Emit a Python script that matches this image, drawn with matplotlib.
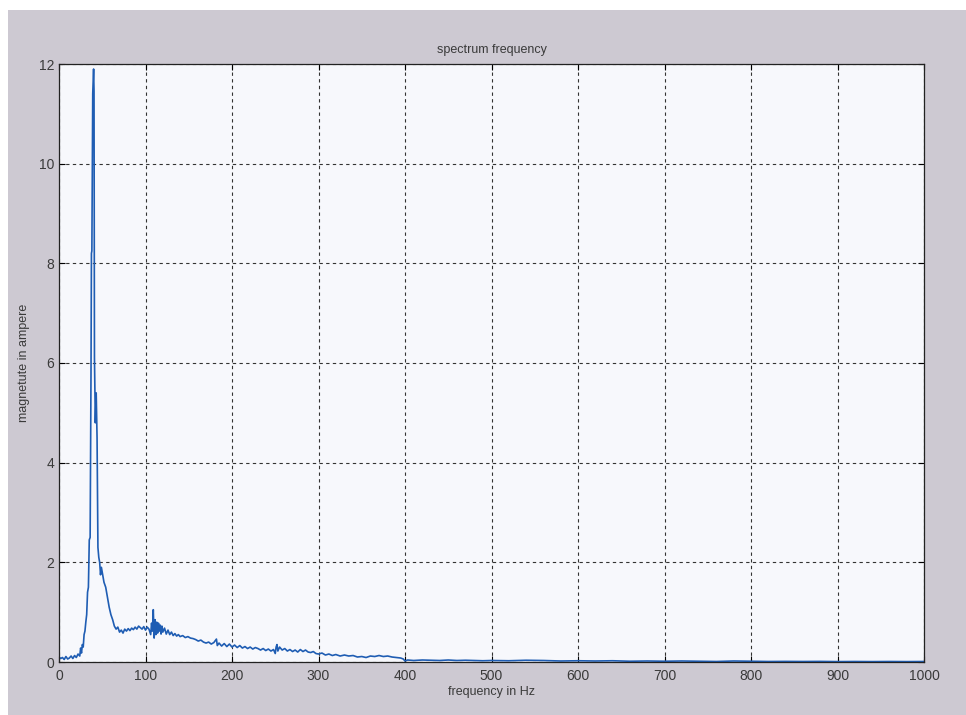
import matplotlib
matplotlib.use("Agg")
import matplotlib.pyplot as plt
from matplotlib.patches import Rectangle

# spectrum (Hz, ampere)
freq_hz = [0, 2, 4, 6, 8, 10, 12, 14, 16, 18, 20, 22, 24, 25, 26, 27, 28, 29,
           30, 31, 32, 33, 34, 35, 36, 37, 37.5, 38, 39, 40, 40.5, 41, 41.5,
           42, 43, 44, 45, 46, 47, 48, 49, 50, 52, 54, 56, 58, 60, 62, 64, 66,
           68, 70, 72, 74, 76, 78, 80, 82, 84, 86, 88, 90, 92, 94, 96, 98, 100,
           102, 104, 106, 107, 108, 109, 110, 111, 112, 113, 114, 115, 116,
           117, 118, 119, 120, 122, 124, 126, 128, 130, 132, 134, 136, 138,
           140, 143, 146, 149, 152, 155, 158, 161, 164, 167, 170, 173, 176,
           179, 182, 183, 185, 188, 191, 194, 197, 200, 203, 206, 209, 212,
           215, 218, 221, 224, 227, 230, 233, 236, 239, 242, 245, 248, 250,
           251, 252, 253, 255, 258, 261, 264, 267, 270, 273, 276, 279, 282,
           285, 288, 291, 294, 297, 300, 304, 308, 312, 316, 320, 325, 330,
           335, 340, 345, 350, 355, 360, 365, 370, 375, 380, 385, 390, 395,
           398, 400, 403, 410, 420, 430, 440, 450, 460, 470, 480, 490, 500,
           520, 540, 560, 580, 600, 620, 640, 660, 680, 700, 720, 740, 760,
           780, 800, 820, 840, 860, 880, 900, 920, 940, 960, 980, 1000]
mag_a = [0.10, 0.07, 0.09, 0.05, 0.11, 0.06, 0.08, 0.12, 0.07, 0.13, 0.09,
         0.16, 0.12, 0.28, 0.18, 0.35, 0.30, 0.55, 0.62, 0.80, 0.95, 1.40,
         1.50, 2.45, 2.50, 5.80, 8.20, 8.25, 11.40, 11.90, 11.45, 6.10, 5.50,
         4.80, 5.40, 4.50, 2.30, 2.10, 2.00, 1.75, 1.90, 1.80, 1.60, 1.50,
         1.30, 1.10, 0.95, 0.85, 0.72, 0.66, 0.70, 0.60, 0.64, 0.58, 0.66,
         0.62, 0.67, 0.63, 0.68, 0.65, 0.70, 0.66, 0.72, 0.69, 0.66, 0.71,
         0.64, 0.70, 0.66, 0.55, 0.78, 0.62, 1.05, 0.48, 0.85, 0.55, 0.80,
         0.58, 0.78, 0.62, 0.74, 0.56, 0.72, 0.60, 0.68, 0.56, 0.64, 0.55,
         0.60, 0.53, 0.57, 0.52, 0.55, 0.51, 0.53, 0.49, 0.51, 0.48, 0.47,
         0.45, 0.42, 0.44, 0.40, 0.38, 0.40, 0.36, 0.39, 0.46, 0.33, 0.38,
         0.32, 0.37, 0.31, 0.36, 0.30, 0.34, 0.29, 0.33, 0.28, 0.31, 0.27,
         0.30, 0.26, 0.29, 0.27, 0.24, 0.27, 0.23, 0.26, 0.22, 0.25, 0.17,
         0.30, 0.35, 0.22, 0.30, 0.24, 0.27, 0.22, 0.25, 0.21, 0.24, 0.20,
         0.25, 0.21, 0.24, 0.20, 0.19, 0.21, 0.17, 0.16, 0.18, 0.14, 0.16,
         0.13, 0.15, 0.12, 0.14, 0.12, 0.13, 0.10, 0.11, 0.09, 0.12, 0.11,
         0.13, 0.11, 0.12, 0.10, 0.09, 0.08, 0.06, 0.02, 0.04, 0.03, 0.04,
         0.035, 0.03, 0.04, 0.03, 0.035, 0.03, 0.025, 0.03, 0.025, 0.035,
         0.03, 0.02, 0.025, 0.02, 0.025, 0.015, 0.02, 0.015, 0.02, 0.015,
         0.01, 0.02, 0.015, 0.01, 0.012, 0.01, 0.012, 0.008, 0.01, 0.008,
         0.01, 0.008, 0.01]

x_ticks = [0, 100, 200, 300, 400, 500, 600, 700, 800, 900, 1000]
y_ticks = [0, 2, 4, 6, 8, 10, 12]

plt.rcParams['font.family'] = ['Liberation Sans', 'DejaVu Sans']

fig = plt.figure(figsize=(9.66, 7.15), dpi=100)
fig.patch.set_facecolor('white')
# grey figure window, white scanner margin at top/left
fig.add_artist(Rectangle((8/966, 0), 1, 1 - 10/715, transform=fig.transFigure,
                         facecolor='#cdc9d2', edgecolor='none', zorder=-10))

ax = fig.add_axes([59/966, 53/715, 865/966, 598/715])
ax.set_facecolor('#f7f8fc')
ax.plot(freq_hz, mag_a, color='#1f5db3', lw=1.2)

ax.set_xlim(0, 1000)
ax.set_ylim(0, 12)
ax.set_xticks(x_ticks)
ax.set_yticks(y_ticks)
ax.tick_params(direction='in', top=True, right=True, length=4, width=0.8,
               labelsize=10, labelcolor='#3a3a3a')
ax.tick_params(axis='x', pad=5)
ax.grid(True, color='#333333', linestyle=(0, (3, 3)), lw=0.8)
for s in ax.spines.values():
    s.set_color('#222222')
    s.set_linewidth(0.9)

ax.set_title('spectrum frequency', fontsize=9, color='#3a3a3a', pad=8)
ax.set_xlabel('frequency in Hz', fontsize=9, color='#3a3a3a', labelpad=2)
ax.set_ylabel('magnetute in ampere', fontsize=9, color='#3a3a3a', labelpad=6)

fig.savefig('out.png', dpi=100, facecolor=fig.get_facecolor())
